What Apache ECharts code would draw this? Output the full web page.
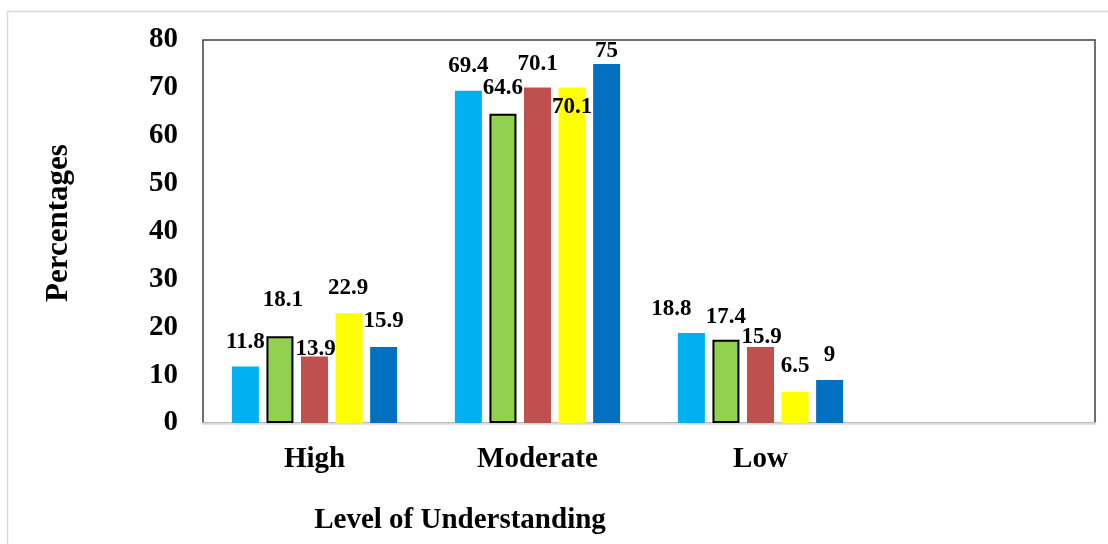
<!DOCTYPE html>
<html>
<head>
<meta charset="utf-8">
<title>Level of Understanding</title>
<script src="https://cdn.jsdelivr.net/npm/echarts@6/dist/echarts.min.js"></script>
<style>
  html, body { margin: 0; padding: 0; background: #ffffff; }
  #chart { width: 1108px; height: 544px; }
</style>
</head>
<body>
<div id="chart"></div>
<script>
// Categories along the x axis (the last slot is left empty)
const categories = ['High', 'Moderate', 'Low', ''];

// Percentages per group
const series1 = [11.8, 69.4, 18.8, null];
const series2 = [18.1, 64.6, 17.4, null];
const series3 = [13.9, 70.1, 15.9, null];
const series4 = [22.9, 70.1, 6.5, null];
const series5 = [15.9, 75, 9, null];

// Y axis range
const yMin = 0;
const yMax = 80;
const yStep = 10;

// Hand-placed value label nudges [dx, dy] relative to the bar top
const labelNudges = [
  [[0, -8], [0, -8], [-20, -7], [0, 0]],
  [[3, -20], [0, -9], [0, -6], [0, 0]],
  [[1, 9], [0, -7], [1, 7], [0, 0]],
  [[-1, -9], [0, 36], [0, -9], [0, 0]],
  [[0, -9], [0, 4], [0, -8], [0, 0]]
];

const FONT = '"Liberation Serif", "Times New Roman", serif';
const colors = ['#00b0f0', '#92d050', '#c0504d', '#ffff00', '#0070c0'];
const values = [series1, series2, series3, series4, series5];

function buildSeries(vals, idx) {
  return {
    name: 'Series ' + (idx + 1),
    type: 'bar',
    barWidth: 27,
    barGap: '28%',
    itemStyle: idx === 1
      ? { color: colors[idx], borderColor: '#000000', borderWidth: 2 }
      : { color: colors[idx] },
    data: vals.map((v, i) => ({
      value: v,
      label: {
        show: v !== null,
        position: 'top',
        distance: 5,
        offset: labelNudges[idx][i],
        fontFamily: FONT,
        fontWeight: 'bold',
        fontSize: 23,
        color: '#000000'
      }
    })),
    emphasis: { disabled: true }
  };
}

const chart = echarts.init(document.getElementById('chart'), null, { renderer: 'canvas' });

chart.setOption({
  animation: false,
  backgroundColor: '#ffffff',
  grid: {
    left: 203,
    right: 13,
    top: 40,
    bottom: 121,
    show: true,
    borderColor: '#404040',
    borderWidth: 1.5,
    backgroundColor: 'transparent'
  },
  xAxis: {
    type: 'category',
    data: categories,
    axisLine: { show: true, lineStyle: { color: '#d9d9d9', width: 2.5 } },
    axisTick: { show: false },
    axisLabel: {
      margin: 22,
      fontFamily: FONT,
      fontWeight: 'bold',
      fontSize: 29,
      color: '#000000'
    },
    splitLine: { show: false }
  },
  yAxis: {
    type: 'value',
    min: yMin,
    max: yMax,
    interval: yStep,
    axisLine: { show: false },
    axisTick: { show: false },
    splitLine: { show: false },
    axisLabel: {
      margin: 25,
      fontFamily: FONT,
      fontWeight: 'bold',
      fontSize: 29,
      color: '#000000'
    }
  },
  graphic: [
    {
      type: 'rect',
      z: -10,
      silent: true,
      shape: { x: 7.5, y: 11.5, width: 1200, height: 600 },
      style: { fill: 'none', stroke: '#d9d9d9', lineWidth: 1.5 }
    },
    {
      type: 'text',
      x: 460,
      y: 521,
      silent: true,
      style: {
        text: 'Level of Understanding',
        fontFamily: FONT,
        fontWeight: 'bold',
        fontSize: 29,
        fill: '#000000',
        textAlign: 'center',
        textVerticalAlign: 'middle'
      }
    },
    {
      type: 'text',
      x: 59,
      y: 223,
      rotation: Math.PI / 2,
      silent: true,
      style: {
        text: 'Percentages',
        fontFamily: FONT,
        fontWeight: 'bold',
        fontSize: 31,
        fill: '#000000',
        textAlign: 'center',
        textVerticalAlign: 'middle'
      }
    }
  ],
  series: values.map(buildSeries)
});
</script>
</body>
</html>
